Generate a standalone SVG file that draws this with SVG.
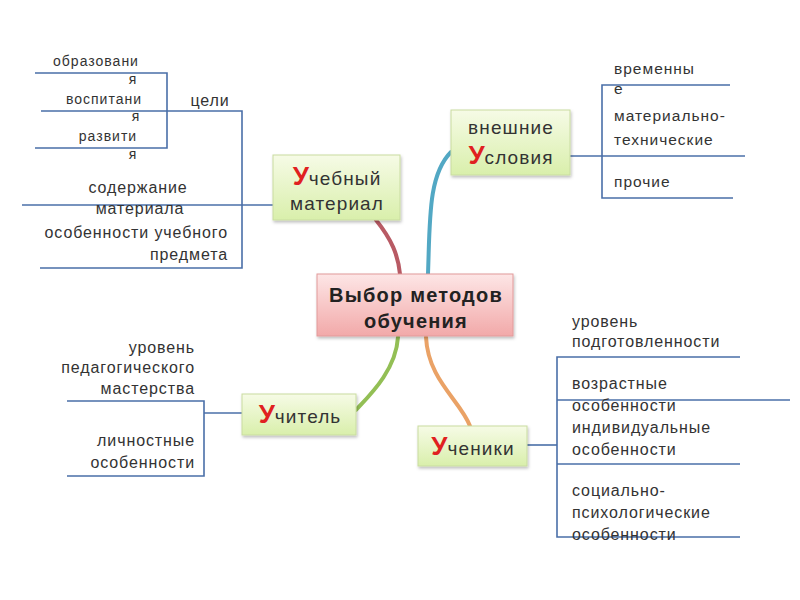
<svg xmlns="http://www.w3.org/2000/svg" width="800" height="600" viewBox="0 0 800 600">
<defs>
<linearGradient id="gGreen" x1="0" y1="0" x2="0" y2="1">
<stop offset="0" stop-color="#f6fbe6"/><stop offset="1" stop-color="#d9efab"/>
</linearGradient>
<linearGradient id="gPink" x1="0" y1="0" x2="0" y2="1">
<stop offset="0" stop-color="#fde6e6"/><stop offset="1" stop-color="#f2a9a9"/>
</linearGradient>
<filter id="sh" x="-10%" y="-10%" width="130%" height="140%">
<feDropShadow dx="1" dy="2" stdDeviation="1.5" flood-color="#000" flood-opacity="0.25"/>
</filter>
</defs>
<style>
text{font-family:"Liberation Sans",Arial,sans-serif;fill:#333}
.s{font-size:14px;letter-spacing:1px}
.t{font-size:15.5px;letter-spacing:1px}
.m{font-size:16px;letter-spacing:0.9px}
.n{font-size:19px;letter-spacing:1.1px;fill:#333}
.u{font-size:26px;fill:#e02020;font-weight:bold}
.c{font-size:20px;font-weight:bold;letter-spacing:1.2px;fill:#222}
.br{stroke:#4a6fa8;stroke-width:1.6;fill:none}
.node{fill:url(#gGreen);stroke:#c9dca0;stroke-width:1;filter:url(#sh)}
</style>
<rect width="800" height="600" fill="#fff"/>
<g id="connectors" fill="none" stroke-linecap="round">
<path d="M376,220 C392,240 398,255 400,274" stroke="#b85a64" stroke-width="4"/>
<path d="M428,274 C430,220 428,175 451,152" stroke="#52a8c4" stroke-width="4"/>
<path d="M398,337 C396,370 370,395 356,410" stroke="#93bf55" stroke-width="4"/>
<path d="M426,337 C428,380 460,400 470,426" stroke="#eaa266" stroke-width="4"/>
</g>
<g id="brackets">
<path class="br" d="M35,73 H167 V148 H35"/>
<path class="br" d="M41,111 H242 V268 H40"/>
<path class="br" d="M22,205 H273"/>
<path class="br" d="M570,156 H745"/>
<path class="br" d="M730,85 H602 V198 H733"/>
<path class="br" d="M527,445 H557"/>
<path class="br" d="M740,357 H557 V537 H740"/>
<path class="br" d="M557,400 H790"/>
<path class="br" d="M557,464 H740"/>
<path class="br" d="M242,413 H204"/>
<path class="br" d="M67,401 H204 V476 H67"/>
</g>
<g id="center">
<rect x="317" y="274" width="196" height="62" fill="url(#gPink)" stroke="#e29a9a" filter="url(#sh)"/>
<text x="416" y="302" text-anchor="middle" class="c">Выбор методов</text>
<text x="416" y="328" text-anchor="middle" class="c">обучения</text>
</g>
<g id="uchebny">
<rect class="node" x="273" y="155" width="127" height="65"/>
<text x="337" y="185" text-anchor="middle"><tspan class="u">У</tspan><tspan class="n">чебный</tspan></text>
<text x="337" y="210" text-anchor="middle" class="n">материал</text>
</g>
<g id="vneshnie">
<rect class="node" x="451" y="110" width="119" height="65"/>
<text x="511" y="134" text-anchor="middle" class="n">внешние</text>
<text x="511" y="164" text-anchor="middle"><tspan class="u">У</tspan><tspan class="n">словия</tspan></text>
</g>
<g id="uchitel">
<rect class="node" x="242" y="394" width="114" height="41"/>
<text x="300" y="423" text-anchor="middle"><tspan class="u">У</tspan><tspan class="n">читель</tspan></text>
</g>
<g id="ucheniki">
<rect class="node" x="418" y="426" width="109" height="40"/>
<text x="473" y="455" text-anchor="middle"><tspan class="u">У</tspan><tspan class="n">ченики</tspan></text>
</g>
<g id="labels-left-top">
<text class="s" x="96" y="66" text-anchor="middle">образовани</text>
<text class="s" x="133" y="84" text-anchor="middle">я</text>
<text class="s" x="104" y="104" text-anchor="middle">воспитани</text>
<text class="s" x="136" y="121" text-anchor="middle">я</text>
<text class="s" x="108" y="141" text-anchor="middle">развити</text>
<text class="s" x="133" y="159" text-anchor="middle">я</text>
<text class="m" x="210" y="106" text-anchor="middle">цели</text>
<text class="m" x="138" y="193" text-anchor="middle">содержание</text>
<text class="m" x="140" y="214" text-anchor="middle">материала</text>
<text class="m" x="228" y="238" text-anchor="end">особенности учебного</text>
<text class="m" x="228" y="260" text-anchor="end">предмета</text>
</g>
<g id="labels-right-top">
<text class="t" x="614" y="74">временны</text>
<text class="t" x="614" y="94">е</text>
<text class="t" x="614" y="121">материально-</text>
<text class="t" x="614" y="145">технические</text>
<text class="t" x="614" y="187">прочие</text>
</g>
<g id="labels-left-bottom">
<text class="m" x="195" y="353" text-anchor="end">уровень</text>
<text class="m" x="195" y="373" text-anchor="end">педагогического</text>
<text class="m" x="195" y="394" text-anchor="end">мастерства</text>
<text class="m" x="195" y="446" text-anchor="end">личностные</text>
<text class="m" x="195" y="468" text-anchor="end">особенности</text>
</g>
<g id="labels-right-bottom">
<text class="m" x="572" y="327">уровень</text>
<text class="m" x="572" y="347">подготовленности</text>
<text class="m" x="572" y="389">возрастные</text>
<text class="m" x="572" y="411">особенности</text>
<text class="m" x="572" y="433">индивидуальные</text>
<text class="m" x="572" y="455">особенности</text>
<text class="m" x="572" y="496">социально-</text>
<text class="m" x="572" y="518">психологические</text>
<text class="m" x="572" y="540">особенности</text>
</g>
</svg>
